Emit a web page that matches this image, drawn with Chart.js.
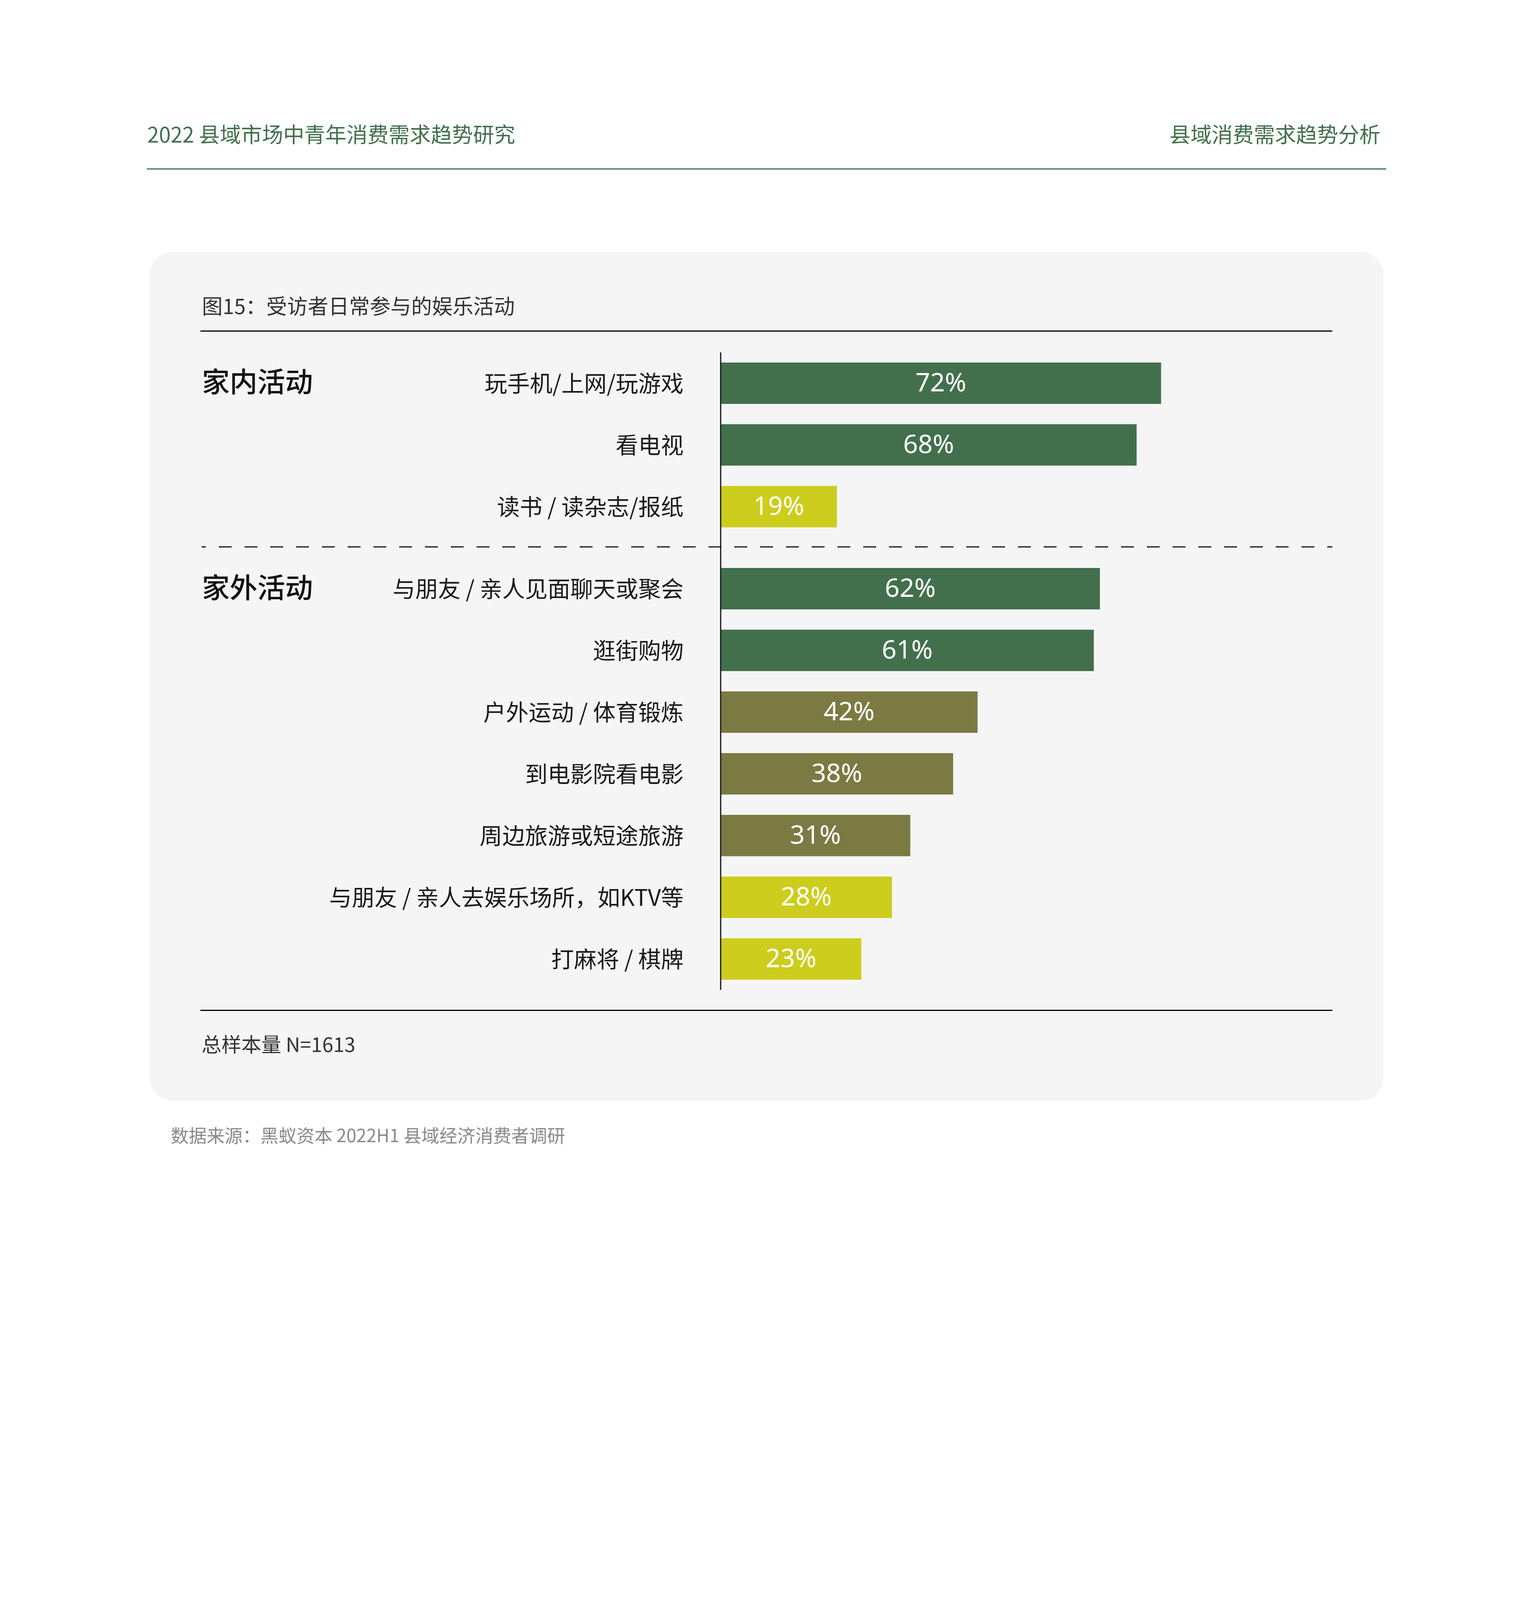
<!DOCTYPE html>
<html lang="zh-CN">
<head>
<meta charset="utf-8">
<title>图15：受访者日常参与的娱乐活动</title>
<script src="https://cdn.jsdelivr.net/npm/chart.js@4.4.1/dist/chart.umd.min.js"></script>
<style>
  html, body { margin: 0; padding: 0; background: #fff; }
  body {
    width: 3917px; height: 5544px; position: relative; overflow: hidden;
    font-family: "Noto Sans CJK SC", "Noto Sans", sans-serif;
  }
  .abs { position: absolute; line-height: 1; white-space: nowrap; }
  .green { color: #41704c; }
  .rule { position: absolute; height: 3px; }
  #panel {
    position: absolute; left: 382px; top: 645px; width: 3160px; height: 2173px;
    background: #f5f5f5; border-radius: 60px;
  }
  canvas { position: absolute; left: 516px; }
  .group { font-size: 71px; font-weight: 500; color: #111; left: 517px; }
</style>
</head>
<body>
  <div class="abs green" style="left:377px; top:315px; font-size:54px;">2022 县域市场中青年消费需求趋势研究</div>
  <div class="abs green" style="right:383px; top:315px; font-size:54px;">县域消费需求趋势分析</div>
  <div class="rule" style="left:376px; top:431px; width:3173px; background:#41704c;"></div>

  <div id="panel"></div>
  <div class="abs" id="title" style="left:517px; top:755px; font-size:53px; color:#333;"></div>
  <div class="rule" style="left:513px; top:846px; width:2898px; background:#000;"></div>

  <div class="abs group" id="group0" style="top:937px;"></div>
  <div class="abs group" id="group1" style="top:1464px;"></div>

  <canvas id="homeChart" width="2895" height="526" style="top:902px;"></canvas>
  <canvas id="outChart" width="2895" height="1106" style="top:1428px;"></canvas>

  <div class="rule" style="left:513px; top:2585px; width:2898px; background:#000;"></div>
  <div class="abs" id="sample" style="left:516px; top:2646px; font-size:51px; color:#333;"></div>
  <div class="abs" id="source" style="left:437px; top:2881px; font-size:46px; color:#8a8a8a;"></div>

  <div class="rule" style="left:375px; top:5067px; width:3174px; background:#41704c;"></div>
  <div class="abs green" style="left:378px; top:5148px; font-size:52px;">BA CAPITAL 黑蚁资本</div>
  <div class="abs green" style="right:381px; top:5142px; font-size:85px;">30</div>

<script>
// data
const chartTitle = "图15：受访者日常参与的娱乐活动";
const groupNames = ["家内活动", "家外活动"];
const homeLabels = ["玩手机/上网/玩游戏", "看电视", "读书 / 读杂志/报纸"];
const homeValues = [72, 68, 19];
const outLabels = [
  "与朋友 / 亲人见面聊天或聚会",
  "逛街购物",
  "户外运动 / 体育锻炼",
  "到电影院看电影",
  "周边旅游或短途旅游",
  "与朋友 / 亲人去娱乐场所，如KTV等",
  "打麻将 / 棋牌",
];
const outValues = [62, 61, 42, 38, 31, 28, 23];
const sampleNote = "总样本量 N=1613";
const sourceNote = "数据来源：黑蚁资本 2022H1 县域经济消费者调研";

// colours
const GREEN = "#42704d";
const OLIVE = "#7c7a43";
const YELLOW = "#cdcd1e";
const homeColors = [GREEN, GREEN, YELLOW];
const outColors = [GREEN, GREEN, OLIVE, OLIVE, OLIVE, YELLOW, YELLOW];

document.getElementById("title").innerText = chartTitle;
document.getElementById("group0").innerText = groupNames[0];
document.getElementById("group1").innerText = groupNames[1];
document.getElementById("sample").innerText = sampleNote;
document.getElementById("source").innerText = sourceNote;

let GAP = 52; // space between the two groups, holds the dashed line

// vertical axis line + dashed separator under the first group
const axisLine = {
  id: "axisLine",
  afterDatasetsDraw(chart, args, opts) {
    const { ctx, chartArea, height } = chart;
    ctx.save();
    ctx.strokeStyle = "#111";
    ctx.lineWidth = 3;
    ctx.beginPath();
    ctx.moveTo(chartArea.left, 0);
    ctx.lineTo(chartArea.left, height);
    ctx.stroke();
    if (opts.dashed) {
      let y = chartArea.bottom + 24;
      ctx.setLineDash([33, 33]);
      ctx.beginPath();
      ctx.moveTo(-22, y);
      ctx.lineTo(chartArea.right + 2, y);
      ctx.stroke();
    }
    ctx.restore();
  },
};

// value labels in the middle of each bar
const barText = {
  id: "barText",
  afterDatasetsDraw(chart) {
    const ctx = chart.ctx;
    const meta = chart.getDatasetMeta(0);
    ctx.save();
    ctx.fillStyle = "#fff";
    ctx.font = '400 66px "Noto Sans", sans-serif';
    ctx.textAlign = "center";
    ctx.textBaseline = "middle";
    meta.data.forEach((bar, i) => {
      const v = chart.data.datasets[0].data[i];
      ctx.fillText(v + "%", (bar.x + bar.base) / 2, bar.y + 2);
    });
    ctx.restore();
  },
};

function makeChart(id, labels, values, colors, gapBelow) {
  return new Chart(document.getElementById(id), {
    type: "bar",
    data: {
      labels: labels,
      datasets: [
        {
          data: values,
          backgroundColor: colors,
          borderWidth: 0,
          barPercentage: 0.67,
          categoryPercentage: 1,
        },
      ],
    },
    options: {
      indexAxis: "y",
      responsive: false,
      animation: false,
      events: [],
      layout: { padding: { top: 0, bottom: gapBelow, left: 0, right: 0 } },
      plugins: {
        legend: { display: false },
        tooltip: { enabled: false },
        axisLine: { dashed: gapBelow > 0 },
      },
      scales: {
        x: { display: false, min: 0, max: 100 },
        y: {
          grid: { display: false, drawTicks: false },
          border: { display: false },
          ticks: {
            color: "#1a1a1a",
            padding: 95,
            font: { family: '"Noto Sans CJK SC", sans-serif', size: 58 },
          },
          afterFit(scale) {
            scale.width = 1329;
            // labels sit inside their bands, no extra room needed above/below
            scale.paddingTop = 0;
            scale.paddingBottom = 0;
          },
        },
      },
    },
    plugins: [axisLine, barText],
  });
}

makeChart("homeChart", homeLabels, homeValues, homeColors, GAP);
makeChart("outChart", outLabels, outValues, outColors, 0);
</script>
</body>
</html>
